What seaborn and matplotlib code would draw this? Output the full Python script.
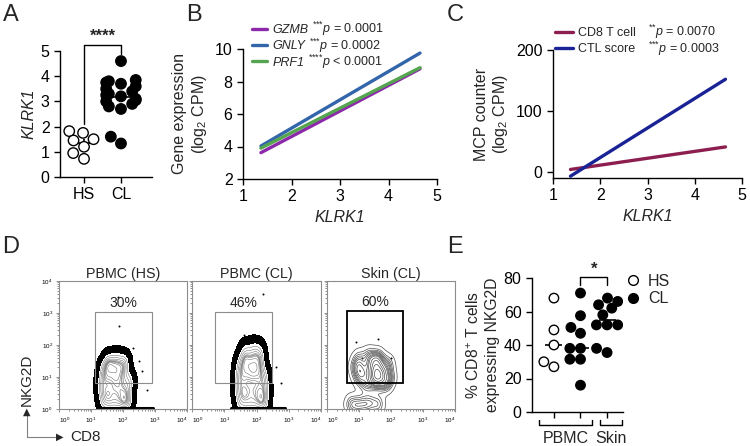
import numpy as np
import pandas as pd
import matplotlib
matplotlib.use("Agg")
import matplotlib.pyplot as plt
from matplotlib.lines import Line2D
from matplotlib.patches import Rectangle
import seaborn as sns

W, H = 750, 446

# ---------------- data ----------------
# A: KLRK1 expression per group
klrk1_groups = ["HS", "CL"]
klrk1_hs = [1.82, 1.75, 1.50, 1.45, 1.20, 0.95, 0.72]
klrk1_cl = [4.60, 3.85, 3.80, 3.75, 3.70, 3.60, 3.50, 3.40, 3.30, 3.25,
            3.20, 3.10, 3.05, 3.00, 2.90, 2.80, 2.70, 1.60, 1.33]

# B: fitted lines, gene expression vs KLRK1
fit_x = [1.37, 4.65]
b_genes = ["GZMB", "GNLY", "PRF1"]
b_stars = ["***", "***", "****"]
b_pvals = ["= 0.0001", "= 0.0002", "< 0.0001"]
b_colors = ["#8C28AA", "#3265AA", "#55A550"]
gzmb_fit = [3.62, 8.78]
gnly_fit = [4.03, 9.75]
prf1_fit = [3.90, 8.85]

# C: fitted lines, MCP counter vs KLRK1
c_names = ["CD8 T cell", "CTL score"]
c_stars = ["**", "***"]
c_pvals = ["= 0.0070", "= 0.0003"]
c_colors = ["#8C1E50", "#1A2396"]
cd8_fit = [4.0, 41.0]
ctl_fit = [-7.0, 152.0]

# D: flow cytometry, representative events in log10 units (CD8, NKG2D)
d_titles = ["PBMC (HS)", "PBMC (CL)", "Skin (CL)"]
d_pcts = ["30%", "46%", "60%"]
d_gates = [(1.12, 2.92, 0.80, 3.02), (0.70, 2.49, 0.80, 3.02), (0.64, 2.38, 0.80, 3.06)]
d1_cd8 = [1.40, 1.60, 1.80, 2.00, 2.15, 1.35, 1.55, 1.75, 1.95, 2.15, 1.35,
          1.55, 1.75, 1.95, 2.20, 1.40, 1.60, 1.80, 2.00, 1.55, 1.80, 2.05]
d1_nkg = [0.20, 0.20, 0.20, 0.20, 0.20, 0.55, 0.55, 0.60, 0.55, 0.55, 0.90,
          0.95, 0.95, 0.90, 0.90, 1.25, 1.30, 1.25, 1.25, 1.50, 1.55, 1.50]
d2_cd8 = [1.50, 1.70, 1.90, 2.10, 2.25, 1.45, 1.65, 1.85, 2.05, 2.25, 1.45,
          1.65, 1.85, 2.05, 2.25, 1.50, 1.70, 1.90, 2.10, 1.65, 1.90, 2.10]
d2_nkg = [0.20, 0.20, 0.20, 0.20, 0.20, 0.60, 0.60, 0.65, 0.60, 0.60, 1.00,
          1.05, 1.10, 1.05, 1.00, 1.40, 1.45, 1.40, 1.40, 1.75, 1.80, 1.75]
d3_cd8 = [1.20, 1.40, 1.55, 1.70, 1.85, 1.10, 1.35, 1.55, 1.75, 1.45, 1.60,
          1.50, 1.65, 1.00, 1.30, 1.60, 0.90, 1.00, 1.95, 1.90,
          0.75, 0.95, 1.15, 1.35, 1.60]
d3_nkg = [0.80, 0.85, 0.90, 0.85, 0.80, 1.20, 1.25, 1.15, 1.20, 1.50, 1.45,
          1.10, 1.05, 1.55, 1.65, 1.60, 1.30, 1.00, 1.00, 1.40,
          0.15, 0.12, 0.15, 0.18, 0.15]
d_dots_cd8 = [[1.84, 1.87, 2.50, 2.60, 2.30, 2.75], [2.20, 1.60, 2.60, 2.75], [1.60, 2.00, 1.10, 0.90]]
d_dots_nkg = [[3.50, 2.60, 1.50, 1.20, 1.90, 0.60], [3.60, 2.30, 1.30, 0.80], [2.20, 1.60, 1.60, 2.10]]
d_floor_cd8 = [[1.22, 2.94], [1.20, 2.88], [0.60, 1.90]]
d_floor_nkg = [[0.03, 0.03], [0.03, 0.03], [0.03, 0.03]]

# E: % CD8+ T cells expressing NKG2D
e_groups = ["HS PBMC", "CL PBMC", "CL Skin"]
e_status = ["HS", "CL", "CL"]
nkg2d_hs_pbmc = [68, 49, 40, 30, 27]
nkg2d_cl_pbmc = [71, 57.5, 50.5, 47, 38, 38, 31.5, 31.5, 16]
nkg2d_cl_skin = [68, 66, 64, 62, 58, 52, 52, 52, 38, 35.5]

# ---------------- style ----------------
sns.set_style("ticks")
plt.rcParams.update({
    "font.family": ["Liberation Sans", "DejaVu Sans"],
    "mathtext.fontset": "custom",
    "mathtext.rm": "Liberation Sans",
    "mathtext.it": "Liberation Sans:italic",
    "mathtext.bf": "Liberation Sans:bold",
    "axes.linewidth": 1.0,
    "axes.edgecolor": "black",
    "xtick.major.width": 1.0,
    "ytick.major.width": 1.0,
    "xtick.major.size": 4,
    "ytick.major.size": 4,
    "xtick.color": "black",
    "ytick.color": "black",
    "font.size": 11,
})

fig = plt.figure(figsize=(W / 100, H / 100), dpi=100)


def px_axes(left, top, right, bottom):
    return fig.add_axes([left / W, 1 - bottom / H, (right - left) / W, (bottom - top) / H])


def letter(x, y, s):
    fig.text(x / W, 1 - y / H, s, fontsize=17, va="top", ha="left")


def density(xs, ys, bw_adjust):
    # gaussian kde on a grid (scott bandwidth), like seaborn's bivariate kde
    xs, ys = np.asarray(xs), np.asarray(ys)
    f = len(xs) ** (-1 / 6) * bw_adjust
    bx, by = xs.std(ddof=1) * f, ys.std(ddof=1) * f
    g = np.linspace(-0.6, 4.6, 260)
    xx, yy = np.meshgrid(g, g)
    zz = np.exp(-0.5 * (((xx[..., None] - xs) / bx) ** 2 + ((yy[..., None] - ys) / by) ** 2)).sum(-1)
    return xx, yy, zz


def iso_levels(zz, props):
    # density value below which the given proportion of mass lies
    z = np.sort(zz.ravel())
    c = np.cumsum(z) / z.sum()
    return z[np.searchsorted(c, props)]


def p_column(leg, texts, gap, fs, aligned):
    # p-value strings placed after the legend labels, on the same rows
    fig.canvas.draw()
    r = fig.canvas.get_renderer()
    boxes = [t.get_window_extent(r) for t in leg.get_texts()]
    right = max(bb.x1 for bb in boxes)
    for bb, s in zip(boxes, texts):
        x0 = (right if aligned else bb.x1) + gap
        base = bb.y0 + 0.22 * fs * 100 / 72
        fig.text(x0 / W, base / H, s, ha="left", va="baseline", fontsize=fs)


# ---------------- A ----------------
ax = px_axes(60, 51, 152, 177)
df_a = pd.DataFrame({"group": ["HS"] * len(klrk1_hs) + ["CL"] * len(klrk1_cl),
                     "KLRK1": klrk1_hs + klrk1_cl})
for i, vals in enumerate([klrk1_hs, klrk1_cl]):
    m = np.mean(vals)
    se = np.std(vals, ddof=1) / np.sqrt(len(vals))
    ax.hlines(m, i - 0.35, i + 0.35, color="black", lw=1.2, zorder=1)
    ax.vlines(i, m - se, m + se, color="black", lw=1.2, zorder=1)
sns.swarmplot(data=df_a, x="group", y="KLRK1", hue="group", order=klrk1_groups,
              palette={"HS": "white", "CL": "black"}, edgecolor="black",
              linewidth=1, size=7.5, legend=False, ax=ax, zorder=3, warn_thresh=1)
ax.set_xlim(-0.65, 1.84)
ax.set_ylim(0, 5)
ax.set_yticks(range(6))
ax.set_xlabel("")
ax.set_ylabel("KLRK1", style="italic", fontsize=11.5, labelpad=3)
ax.tick_params(labelsize=11.5)
sns.despine(ax=ax)
ax.plot([0, 0, 1, 1], [2.12, 5.24, 5.24, 4.88], color="black", lw=1, clip_on=False)
ax.text(0.5, 5.58, "****", ha="center", va="center", fontsize=12, fontweight="bold")

# ---------------- B ----------------
ax = px_axes(243, 49, 437, 179)
for gene, ys, col in zip(b_genes, [gzmb_fit, gnly_fit, prf1_fit], b_colors):
    sns.lineplot(x=fit_x, y=ys, color=col, lw=2.4, ax=ax, label=gene)
ax.set_xlim(1, 5)
ax.set_ylim(2, 10)
ax.set_xticks(range(1, 6))
ax.set_yticks(range(2, 11, 2))
ax.tick_params(labelsize=11.5)
ax.set_xlabel("KLRK1", style="italic", fontsize=11.5)
ax.set_ylabel("Gene expression\n(log$_2$ CPM)", fontsize=11.5, labelpad=4)
sns.despine(ax=ax)
leg_b = ax.legend(loc="upper left", bbox_to_anchor=(252 / W, 1 - 24 / H), bbox_transform=fig.transFigure,
                  frameon=False, fontsize=9, handlelength=1.2, handletextpad=0.45,
                  labelspacing=0.35, borderpad=0, borderaxespad=0)
for t in leg_b.get_texts():
    t.set_fontstyle("italic")

# ---------------- C ----------------
ax = px_axes(553, 50, 742, 178)
for name, ys, col in zip(c_names, [cd8_fit, ctl_fit], c_colors):
    sns.lineplot(x=fit_x, y=ys, color=col, lw=2.4, ax=ax, label=name)
ax.set_xlim(1, 5)
ax.set_ylim(-10, 200)
ax.set_xticks(range(1, 6))
ax.set_yticks([0, 100, 200])
ax.tick_params(labelsize=11.5)
ax.set_xlabel("KLRK1", style="italic", fontsize=11.5)
ax.set_ylabel("MCP counter\n(log$_2$ CPM)", fontsize=11.5, labelpad=4)
sns.despine(ax=ax)
leg_c = ax.legend(loc="upper left", bbox_to_anchor=(555 / W, 1 - 27 / H), bbox_transform=fig.transFigure,
                  frameon=False, fontsize=9, handlelength=1.4, handletextpad=0.45,
                  labelspacing=0.35, borderpad=0, borderaxespad=0)

# ---------------- D ----------------
d_boxes = [(59, 281, 187, 409), (192, 281, 321, 409), (327, 281, 455, 409)]
d_events = [(d1_cd8, d1_nkg), (d2_cd8, d2_nkg), (d3_cd8, d3_nkg)]
minor = np.concatenate([np.log10(np.arange(2, 10)) + k for k in range(4)])
for k, (box, (ex, ey)) in enumerate(zip(d_boxes, d_events)):
    ax = px_axes(*box)
    if k < 2:
        xx, yy, zz = density(ex, ey, 0.75)
        ax.contourf(xx, yy, zz, levels=iso_levels(zz, [0.015, 0.11]), colors=["black"])
        ax.contour(xx, yy, zz, levels=iso_levels(zz, np.linspace(0.2, 0.96, 9)),
                   colors="0.45", linewidths=0.4)
        sns.lineplot(x=d_floor_cd8[k], y=d_floor_nkg[k], color="black", lw=2.2, ax=ax)
    else:
        xx, yy, zz = density(ex, ey, 0.7)
        ax.contour(xx, yy, zz, levels=iso_levels(zz, np.linspace(0.03, 0.95, 13)),
                   colors="0.3", linewidths=0.5)
    sns.scatterplot(x=d_dots_cd8[k], y=d_dots_nkg[k], s=2, color="black", linewidth=0, ax=ax)
    gx0, gx1, gy0, gy1 = d_gates[k]
    ax.add_patch(Rectangle((gx0, gy0), gx1 - gx0, gy1 - gy0, fill=False,
                           edgecolor="black" if k == 2 else "0.55", lw=1.3 if k == 2 else 0.8, zorder=5))
    ax.text((gx0 + gx1) / 2, gy1 + 0.08, d_pcts[k], ha="center", va="bottom", fontsize=10)
    ax.set_title(d_titles[k], fontsize=10.3, pad=2)
    ax.set_xlim(0, 4)
    ax.set_ylim(0, 4)
    ax.set_xlabel("")
    ax.set_ylabel("")
    ax.set_xticks(range(5))
    ax.set_xticklabels([rf"10$^{{{i}}}$" for i in range(5)])
    ax.get_xticklabels()[0].set_ha("left")
    ax.get_xticklabels()[-1].set_ha("right")
    ax.set_yticks(range(5))
    ax.set_yticklabels([rf"10$^{{{i}}}$" for i in range(5)] if k == 0 else [])
    ax.set_xticks(minor, minor=True)
    ax.set_yticks(minor, minor=True)
    ax.tick_params(which="both", labelsize=4.5, color="0.4", width=0.5, pad=2, direction="out")
    ax.tick_params(which="major", length=2.5)
    ax.tick_params(which="minor", length=1.2)
    for sp in ax.spines.values():
        sp.set_color("0.55")
        sp.set_linewidth(0.8)

# axis arrows for D
fig.add_artist(Line2D([27 / W, 27 / W], [1 - 437 / H, 1 - 412 / H], color="0.5", lw=0.8))
fig.add_artist(Line2D([27 / W, 58 / W], [1 - 437 / H, 1 - 437 / H], color="0.5", lw=0.8))
fig.text(27 / W, 1 - 412 / H, "\u25B2", ha="center", va="center", fontsize=7, family="DejaVu Sans")
fig.text(60 / W, 1 - 437 / H, "\u25B6", ha="center", va="center", fontsize=7, family="DejaVu Sans")
fig.text(27 / W, 1 - 380 / H, "NKG2D", rotation=90, ha="center", va="center", fontsize=11)
fig.text(70 / W, 1 - 437 / H, "CD8", ha="left", va="center", fontsize=11)

# ---------------- E ----------------
ax = px_axes(532, 278, 623, 412)
e_vals = [nkg2d_hs_pbmc, nkg2d_cl_pbmc, nkg2d_cl_skin]
df_e = pd.DataFrame({
    "group": sum([[g] * len(v) for g, v in zip(e_groups, e_vals)], []),
    "status": sum([[s] * len(v) for s, v in zip(e_status, e_vals)], []),
    "pct": sum(e_vals, []),
})
for i, vals in enumerate(e_vals):
    ax.hlines(np.median(vals), i - 0.32, i + 0.32, color="black", lw=1.2, zorder=1)
sns.swarmplot(data=df_e, x="group", y="pct", hue="status", order=e_groups, hue_order=["HS", "CL"],
              palette={"HS": "white", "CL": "black"}, edgecolor="black", linewidth=1,
              size=6.8, legend=False, ax=ax, zorder=3, warn_thresh=1)
ax.set_xlim(-0.825, 2.6)
ax.set_ylim(0, 80)
ax.set_yticks(range(0, 81, 20))
ax.set_xticks(range(3))
ax.set_xticklabels([])
ax.set_xlabel("")
ax.tick_params(labelsize=11.5)
ax.set_ylabel("% CD8$^{+}$ T cells\nexpressing NKG2D", fontsize=11.3, labelpad=3)
sns.despine(ax=ax)
ax.plot([1, 1, 2, 2], [76, 80.3, 80.3, 76], color="black", lw=1, clip_on=False)
ax.text(1.5, 81, "*", ha="center", va="bottom", fontsize=12, fontweight="bold")
ax.plot([-0.55, -0.55, 1.45, 1.45], [-5, -8, -8, -5], color="black", lw=1, clip_on=False)
ax.plot([1.75, 1.75, 2.58, 2.58], [-5, -8, -8, -5], color="black", lw=1, clip_on=False)
ax.text(0.45, -16, "PBMC", ha="center", va="center", fontsize=11.5)
ax.text(2.16, -16, "Skin", ha="center", va="center", fontsize=11.5)
e_handles = [Line2D([], [], ls="", marker="o", ms=7, mfc="white", mec="black", mew=1),
             Line2D([], [], ls="", marker="o", ms=7, mfc="black", mec="black", mew=1)]
fig.legend(e_handles, ["HS", "CL"], loc="upper left", bbox_to_anchor=(627 / W, 1 - 274 / H),
           frameon=False, fontsize=11.5, handlelength=0.8, handletextpad=0.5,
           labelspacing=0.15, borderpad=0, borderaxespad=0)

# panel letters
letter(3, 4, "A")
letter(186, 4, "B")
letter(447, 4, "C")
letter(2, 236, "D")
letter(447, 236, "E")

# p-value columns next to the B and C legends
p_column(leg_b, [rf"$^{{\text{{{s}}}}}\mathit{{p}}$ {p}" for s, p in zip(b_stars, b_pvals)], 3, 9, False)
p_column(leg_c, [rf"$^{{\text{{{s}}}}}\mathit{{p}}$ {p}" for s, p in zip(c_stars, c_pvals)], 12, 9, True)

fig.savefig("out.png", dpi=100)
